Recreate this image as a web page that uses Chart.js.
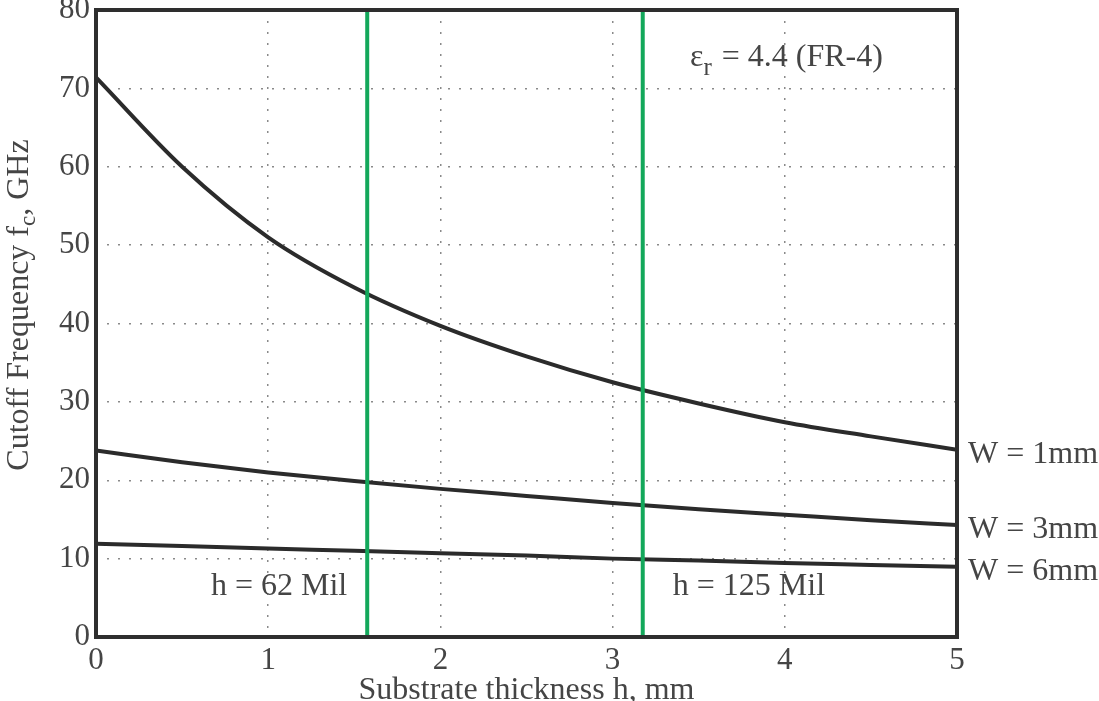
<!DOCTYPE html>
<html lang="en">
<head>
<meta charset="UTF-8">
<title>Cutoff Frequency vs Substrate Thickness</title>
<script src="https://cdn.jsdelivr.net/npm/chart.js"></script>
<style>
    body { margin: 0; background: #fff; }
    #wrap { width: 1099px; height: 701px; }
</style>
</head>
<body>
<div id="wrap"><canvas id="cutoffChart" width="1099" height="701"></canvas></div>
<script>
    // substrate thickness h (mm) and cutoff frequency fc (GHz) for each strip width
    const thickness = [0, 0.5, 1, 1.5, 2, 2.5, 3, 3.5, 4, 4.5, 5];
    const fcW1 = [71.4, 60.0, 51.0, 44.6, 39.7, 35.8, 32.5, 29.8, 27.4, 25.6, 23.9];
    const fcW3 = [23.8, 22.3, 21.0, 19.9, 18.9, 18.0, 17.1, 16.3, 15.6, 14.9, 14.3];
    const fcW6 = [11.9, 11.6, 11.3, 11.0, 10.7, 10.4, 10.0, 9.75, 9.45, 9.2, 8.95];
    const widthLabels = ['W = 1mm', 'W = 3mm', 'W = 6mm'];

    // standard board thicknesses: 62 mil and 125 mil
    const markThickness = [1.575, 3.175];
    const markLabels = ['h = 62 Mil', 'h = 125 Mil'];

    const xTicks = [0, 1, 2, 3, 4, 5];
    const yTicks = [0, 10, 20, 30, 40, 50, 60, 70, 80];

    const serif = '"Liberation Serif", "Times New Roman", serif';
    const textColor = '#454545';
    const curveColor = '#2b2b2b';
    const green = '#13a85b';

    const curves = [fcW1, fcW3, fcW6];

    const curveSets = curves.map((vals, i) => ({
        label: widthLabels[i],
        data: thickness.map((h, j) => ({ x: h, y: vals[j] })),
        borderColor: curveColor,
        borderWidth: 4,
        pointRadius: 0,
        cubicInterpolationMode: 'monotone'
    }));

    const markSets = markThickness.map((h, i) => ({
        label: markLabels[i],
        data: [{ x: h, y: yTicks[0] }, { x: h, y: yTicks[yTicks.length - 1] }],
        borderColor: green,
        borderWidth: 4,
        pointRadius: 0
    }));

    // frame, curve labels, annotations and axis titles
    const annotate = {
        id: 'annotate',
        afterDatasetsDraw(chart) {
            const { ctx, chartArea: a, scales: { x, y } } = chart;
            ctx.save();
            ctx.strokeStyle = '#2e2e2e';
            ctx.lineWidth = 4;
            ctx.strokeRect(a.left, a.top, a.right - a.left, a.bottom - a.top);

            ctx.fillStyle = textColor;
            ctx.font = '32px ' + serif;
            ctx.textBaseline = 'middle';

            ctx.textAlign = 'left';
            curves.forEach((vals, i) => {
                ctx.fillText(widthLabels[i], a.right + 11, y.getPixelForValue(vals[vals.length - 1]) + 5);
            });

            ctx.textAlign = 'right';
            ctx.fillText(markLabels[0], x.getPixelForValue(markThickness[0]) - 20, 587);
            ctx.textAlign = 'left';
            ctx.fillText(markLabels[1], x.getPixelForValue(markThickness[1]) + 30, 587);

            // permittivity note with subscript r
            ctx.textBaseline = 'alphabetic';
            let px = 690;
            ctx.fillText('\u03b5', px, 66);
            px += ctx.measureText('\u03b5').width;
            ctx.font = '25px ' + serif;
            ctx.fillText('r', px, 75);
            px += ctx.measureText('r').width + 2;
            ctx.font = '32px ' + serif;
            ctx.fillText(' = 4.4 (FR-4)', px, 66);

            // x title
            ctx.textAlign = 'center';
            ctx.font = '32px ' + serif;
            ctx.fillText('Substrate thickness h, mm', (a.left + a.right) / 2, 699);

            // y title, rotated, with subscript c
            ctx.translate(28, 305);
            ctx.rotate(-Math.PI / 2);
            ctx.textAlign = 'left';
            const p1 = 'Cutoff Frequency f', p3 = ', GHz';
            ctx.font = '32px ' + serif;
            const w1 = ctx.measureText(p1).width, w3 = ctx.measureText(p3).width;
            ctx.font = '23px ' + serif;
            const w2 = ctx.measureText('c').width;
            let tx = -(w1 + w2 + w3) / 2;
            ctx.font = '32px ' + serif;
            ctx.fillText(p1, tx, 0);
            tx += w1;
            ctx.font = '23px ' + serif;
            ctx.fillText('c', tx, 7);
            tx += w2;
            ctx.font = '32px ' + serif;
            ctx.fillText(p3, tx, 0);
            ctx.restore();
        }
    };

    const grid = {
        color: '#8a8a8a',
        lineWidth: 1.5,
        drawTicks: false
    };

    new Chart(document.getElementById('cutoffChart'), {
        type: 'line',
        data: { datasets: [...markSets, ...curveSets] },
        options: {
            responsive: false,
            animation: false,
            layout: { padding: { top: 0, right: 142, bottom: 0, left: 0 } },
            plugins: {
                legend: { display: false },
                tooltip: { enabled: false }
            },
            scales: {
                x: {
                    type: 'linear',
                    min: xTicks[0],
                    max: xTicks[xTicks.length - 1],
                    afterBuildTicks: s => { s.ticks = xTicks.map(v => ({ value: v })); },
                    afterFit: s => { s.height = 64; },
                    grid: grid,
                    border: { display: false, dash: [2, 9] },
                    ticks: {
                        color: textColor,
                        padding: 8,
                        font: { family: serif, size: 31, lineHeight: 1 }
                    }
                },
                y: {
                    type: 'linear',
                    min: yTicks[0],
                    max: yTicks[yTicks.length - 1],
                    afterBuildTicks: s => { s.ticks = yTicks.map(v => ({ value: v })); },
                    // the top label may run off the canvas edge; keep the frame at y = 10
                    afterFit: s => { s.width = 96; s.paddingTop = 10; s.paddingBottom = 0; },
                    grid: grid,
                    border: { display: false, dash: [2, 9] },
                    ticks: {
                        color: textColor,
                        padding: 6,
                        font: { family: serif, size: 31 }
                    }
                }
            }
        },
        plugins: [annotate]
    });
</script>
</body>
</html>
